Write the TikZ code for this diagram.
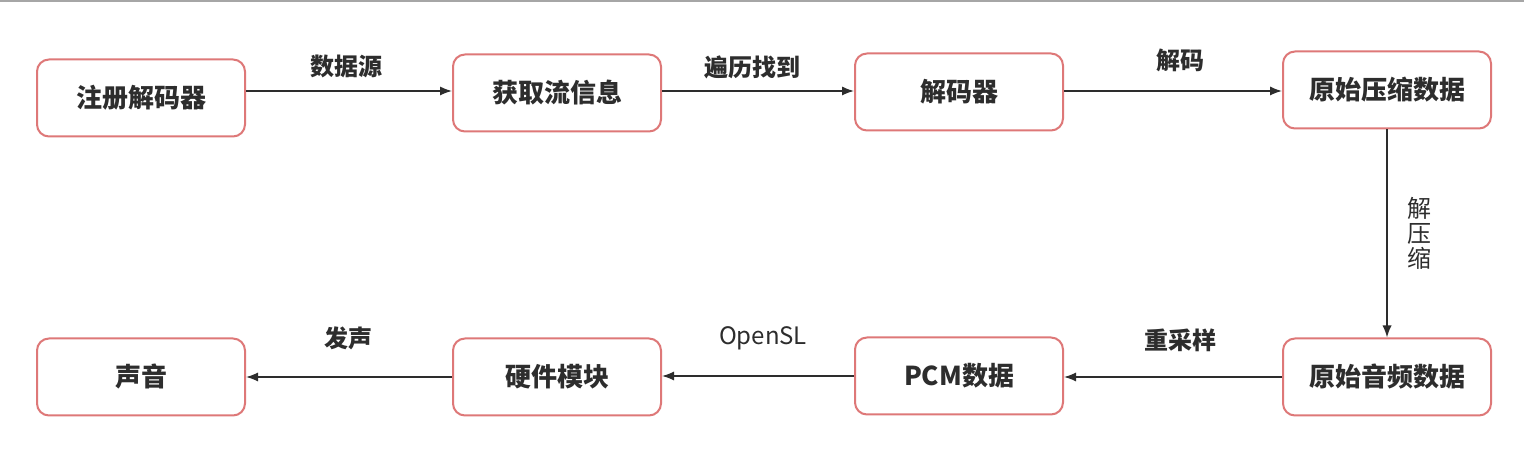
\documentclass[tikz,border=0pt]{standalone}
\usepackage{fontspec}
\setmainfont{Noto Sans CJK SC}
\usetikzlibrary{arrows.meta}
\definecolor{boxred}{RGB}{222,120,120}
\definecolor{ink}{RGB}{45,45,45}
\tikzset{
  box/.style={draw=boxred, line width=1pt, rounded corners=6pt, fill=white,
    minimum width=104pt, minimum height=38.5pt, inner sep=0pt,
    font=\fontsize{13pt}{15pt}\selectfont\bfseries, text=ink},
  conn/.style={draw=ink, line width=0.8pt, -{Latex[length=6pt,width=4.6pt]}},
  lbl/.style={font=\fontsize{12pt}{14pt}\selectfont\bfseries, text=ink, inner sep=1pt},
  lbllight/.style={font=\fontsize{12pt}{14pt}\selectfont, text=ink, inner sep=1pt}
}
\begin{document}
\begin{tikzpicture}[x=0.5pt,y=-0.5pt]
\useasboundingbox (0,0) rectangle (1524,469);
\fill[white] (0,0) rectangle (1524,469);
\draw[gray!70, line width=0.8pt] (0,1) -- (1524,1);
\node[box] (reg)  at (141,98)  {注册解码器};
\node[box] (info) at (557,93)  {获取流信息};
\node[box] (dec)  at (959,92)  {解码器};
\node[box] (comp) at (1387,90) {原始压缩数据};
\node[box] (raw)  at (1387,377) {原始音频数据};
\node[box] (pcm)  at (959,376) {PCM数据};
\node[box] (hw)   at (557,377) {硬件模块};
\node[box] (snd)  at (141,377) {声音};
\coordinate (c1) at (reg.east |- 0,91);
\draw[conn] (c1) -- (c1 -| info.west);
\draw[conn] (info.east |- 0,91) coordinate (c2) -- (c2 -| dec.west);
\draw[conn] (dec.east |- 0,91) coordinate (c3) -- (c3 -| comp.west);
\draw[conn] (comp.south) -- (raw.north);
\draw[conn] (raw.west) -- (raw.west -| pcm.east);
\draw[conn] (pcm.west) -- (pcm.west -| hw.east);
\draw[conn] (hw.west) -- (hw.west -| snd.east);
\node[lbl] (l1) at (346,66) {数据源};
\node[lbl] (l2) at (752,67) {遍历找到};
\node[lbl] (l3) at (1180,60) {解码};
\node[lbllight, align=center, font=\fontsize{12pt}{12.5pt}\selectfont] (l4) at (1419,233) {解\\压\\缩};
\node[lbl] (l5) at (1180,340) {重采样};
\node[lbllight] (l6) at (763,338) {OpenSL};
\node[lbl] (l7) at (348,338) {发声};
\end{tikzpicture}
\end{document}
